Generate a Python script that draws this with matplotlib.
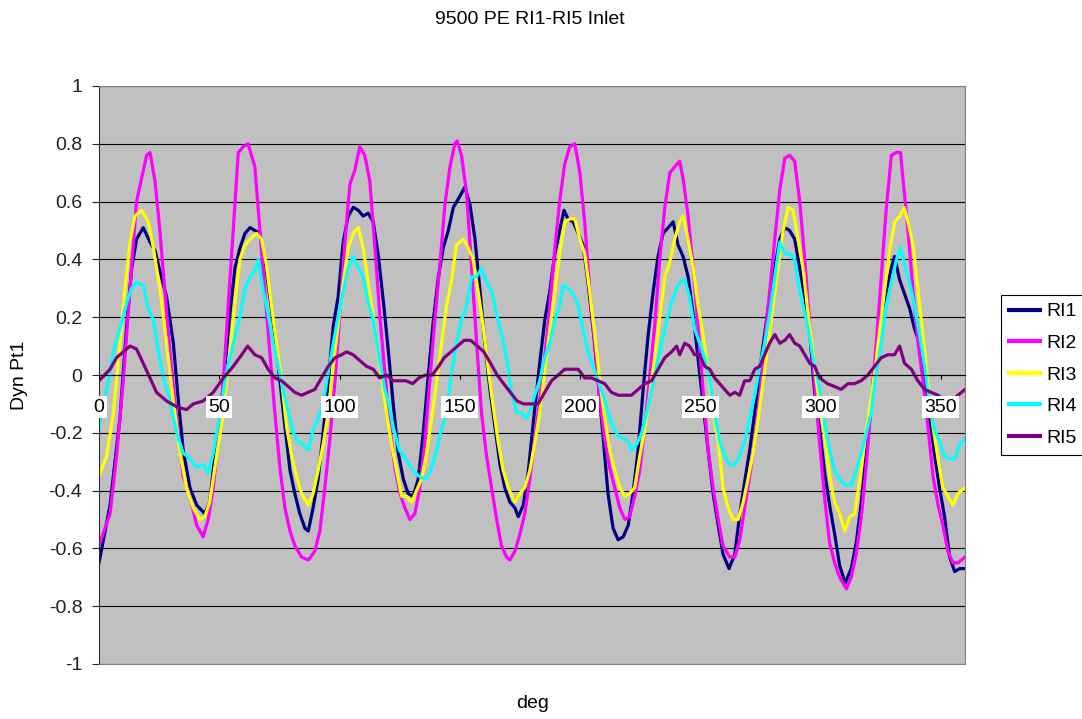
import numpy as np
import matplotlib
matplotlib.use("Agg")
from matplotlib import pyplot as plt

plt.rcParams['font.family'] = ['Liberation Sans', 'DejaVu Sans']

# ---- data (deg, Dyn Pt1) ----
ri1_deg = [0, 4.6, 8.7, 11.5, 13.6, 15.6, 18.4, 21.2, 23.3, 25.3, 28.1, 30.9, 33, 35, 37.8, 40.6, 44, 46, 48.2, 50.3,
           52.4, 54.4, 56.5, 58.6, 60.7, 62.8, 64.8, 66.9, 68.9, 71, 73.1, 75.2, 77.3, 79.4, 81.4, 83.5, 85.6, 87, 89,
           91.1, 93.2, 95.3, 97.4, 99.4, 101.5, 103.6, 105.7, 107.8, 109.8, 111.9, 114, 116, 118.4, 120.2, 122.3,
           124.4, 126.5, 128.5, 130.6, 132.7, 134.8, 136.9, 139, 141.1, 143.1, 145.2, 147.3, 150.1, 152.1, 154.2,
           156.3, 158.4, 160.4, 162.5, 164.6, 166.7, 168.7, 170.8, 172.9, 174.3, 176.4, 178.5, 181.1, 183.2, 185.3,
           187.4, 189.5, 191.5, 193.3, 195, 197.1, 199.2, 201.2, 203.3, 205.4, 207.5, 209.6, 211.6, 213.7, 215.8,
           217.9, 220, 222, 224.1, 226.2, 228.3, 230.4, 232.4, 234.5, 236.6, 238.7, 240.7, 242.8, 244.9, 247, 249,
           251.1, 253.2, 255.3, 257.4, 259.4, 261.9, 264.3, 266.4, 268.4, 270.5, 272.6, 274.7, 276.7, 278.8, 280.9,
           283, 285.1, 287.1, 289.2, 291.3, 293.4, 295.5, 297.5, 299.6, 301.7, 303.7, 305.8, 307.9, 310.2, 312.7,
           314.8, 316.9, 319, 321, 323.1, 325.2, 327.3, 329.4, 330.7, 332.8, 334.9, 337, 339, 341.1, 343.2, 345.3,
           347.4, 349.4, 351.5, 353.6, 355.7, 357.8, 360]
ri1 = [-0.65, -0.45, -0.15, 0.17, 0.37, 0.47, 0.51, 0.46, 0.43, 0.36, 0.27, 0.11, -0.09, -0.26, -0.39, -0.45, -0.48,
       -0.44, -0.28, -0.15, 0.03, 0.21, 0.37, 0.44, 0.49, 0.51, 0.50, 0.49, 0.40, 0.27, 0.14, -0.02, -0.18, -0.33,
       -0.41, -0.48, -0.53, -0.54, -0.46, -0.36, -0.20, -0.02, 0.17, 0.27, 0.46, 0.55, 0.58, 0.57, 0.55, 0.56, 0.53,
       0.42, 0.24, 0.09, -0.10, -0.27, -0.36, -0.41, -0.42, -0.36, -0.20, 0.00, 0.19, 0.34, 0.44, 0.50, 0.58, 0.62,
       0.65, 0.59, 0.47, 0.29, 0.11, -0.05, -0.18, -0.31, -0.39, -0.44, -0.46, -0.49, -0.45, -0.33, -0.12, 0.04,
       0.19, 0.29, 0.42, 0.50, 0.57, 0.54, 0.53, 0.49, 0.45, 0.32, 0.16, -0.02, -0.22, -0.41, -0.53, -0.57, -0.56,
       -0.52, -0.41, -0.26, -0.05, 0.14, 0.29, 0.41, 0.49, 0.51, 0.53, 0.45, 0.41, 0.34, 0.21, 0.06, -0.10, -0.26,
       -0.41, -0.52, -0.62, -0.67, -0.62, -0.48, -0.37, -0.26, -0.13, 0.02, 0.14, 0.27, 0.37, 0.47, 0.51, 0.50,
       0.47, 0.37, 0.27, 0.14, -0.06, -0.19, -0.34, -0.45, -0.55, -0.66, -0.72, -0.67, -0.58, -0.44, -0.27, -0.10,
       0.08, 0.21, 0.29, 0.37, 0.41, 0.33, 0.28, 0.23, 0.16, 0.11, -0.02, -0.15, -0.28, -0.39, -0.49, -0.63, -0.68,
       -0.67, -0.67]

ri2_deg = [0, 4.6, 7.3, 10.1, 12.9, 15.6, 17.7, 19.8, 21.2, 23.3, 25.3, 27.4, 29.5, 32.3, 35, 37.8, 40.6, 43.3, 45.4,
           47.5, 49.6, 51.7, 53.7, 55.8, 57.9, 60, 62, 64.8, 66.9, 68.9, 71, 73.1, 75.2, 77.3, 79.4, 81.4, 84.2, 87,
           89.7, 91.8, 93.9, 96, 98.1, 100.1, 102.2, 104.3, 106.4, 108.4, 110.5, 112.6, 114.7, 116.7, 118.8, 120.9,
           123, 125.1, 127.2, 129.2, 131.3, 133.4, 135.5, 137.5, 139.6, 141.7, 143.8, 145.9, 147.9, 148.9, 150.7,
           152.8, 154.9, 157, 159, 161.1, 163.2, 165.3, 167.3, 169.4, 170.8, 172.9, 175, 177, 179.1, 181.1, 183.2,
           185.3, 187.4, 189.5, 191.5, 193.6, 195.7, 197.8, 199.9, 201.9, 204, 206.1, 208.2, 210.2, 212.3, 214.4,
           216.5, 218.6, 220.6, 222.7, 224.8, 226.9, 228.9, 231, 233.1, 235.2, 237.3, 239.3, 241.4, 242.8, 244.9,
           247, 249, 251.1, 253.2, 255.3, 257.4, 259.4, 262.2, 264.3, 266.4, 268.4, 270.5, 272.6, 274.7, 276.7,
           278.8, 280.9, 283, 285.1, 287.1, 289.2, 291.3, 293.4, 295.5, 297.5, 299.6, 301.7, 303.7, 305.8, 307.9,
           310.7, 312.7, 314.8, 316.9, 319, 321, 323.1, 325.2, 327.3, 329.4, 331.4, 333.2, 334.2, 336.3, 338.4,
           340.5, 342.5, 344.6, 346.7, 348.8, 350.8, 352.9, 355, 357.1, 360]
ri2 = [-0.59, -0.48, -0.28, -0.02, 0.30, 0.60, 0.68, 0.76, 0.77, 0.67, 0.50, 0.29, 0.08, -0.15, -0.35, -0.42, -0.52,
       -0.56, -0.50, -0.39, -0.22, -0.02, 0.24, 0.50, 0.77, 0.79, 0.80, 0.72, 0.50, 0.29, 0.08, -0.13, -0.32, -0.46,
       -0.54, -0.59, -0.63, -0.64, -0.61, -0.54, -0.39, -0.22, -0.02, 0.21, 0.46, 0.66, 0.71, 0.79, 0.76, 0.67, 0.44,
       0.21, 0.01, -0.18, -0.32, -0.41, -0.46, -0.50, -0.48, -0.39, -0.23, -0.02, 0.19, 0.38, 0.59, 0.72, 0.80, 0.81,
       0.76, 0.63, 0.37, 0.11, -0.13, -0.28, -0.39, -0.50, -0.59, -0.63, -0.64, -0.61, -0.55, -0.48, -0.36, -0.22,
       -0.09, 0.06, 0.24, 0.44, 0.60, 0.73, 0.79, 0.80, 0.70, 0.53, 0.29, 0.11, -0.09, -0.22, -0.32, -0.39, -0.46,
       -0.50, -0.49, -0.42, -0.33, -0.18, -0.01, 0.17, 0.40, 0.58, 0.70, 0.72, 0.74, 0.68, 0.55, 0.37, 0.17, -0.05,
       -0.26, -0.39, -0.50, -0.59, -0.63, -0.63, -0.57, -0.46, -0.35, -0.22, -0.07, 0.11, 0.29, 0.47, 0.64, 0.75,
       0.76, 0.74, 0.60, 0.40, 0.17, -0.03, -0.24, -0.43, -0.58, -0.65, -0.70, -0.74, -0.70, -0.62, -0.49, -0.31,
       -0.10, 0.11, 0.34, 0.58, 0.76, 0.77, 0.77, 0.68, 0.50, 0.29, 0.11, -0.02, -0.18, -0.35, -0.45, -0.52, -0.61,
       -0.65, -0.65, -0.63]

ri3_deg = [0, 3.2, 6, 8.7, 10.8, 12.9, 14.9, 17.7, 20.5, 22.6, 25.3, 28.1, 30.9, 33.7, 36.4, 39.2, 41.9, 44, 46, 48.9,
           51.7, 54.4, 57, 58.6, 60.7, 62.8, 65.5, 67.6, 69.6, 71.7, 73.8, 75.9, 78, 80.1, 82.1, 84.2, 87, 89, 91.1,
           93.2, 95.3, 97.4, 99.4, 101.5, 103.6, 105.7, 107.8, 109.8, 111.9, 114, 116, 118.1, 119.5, 121.6, 123.7,
           125.8, 127.9, 130, 132, 134.1, 136.2, 138.3, 140.4, 142.4, 144.5, 146.6, 148.6, 151.4, 153.5, 155.5,
           157.6, 159.7, 161.8, 163.9, 165.9, 168, 170.1, 172.9, 175, 177, 179.1, 181.1, 183.2, 185.3, 187.4, 189.5,
           191.5, 193.6, 195.7, 197.8, 199.9, 201.9, 204, 206.1, 208.2, 210.2, 212.3, 214.4, 216.5, 218.6, 220.6,
           222.7, 224.8, 226.9, 228.9, 231, 233.1, 235.2, 237.3, 239.3, 241.4, 242.8, 244.9, 247, 249, 251.1, 253.2,
           255.3, 257.4, 259.4, 261.5, 263.6, 265.7, 267.8, 269.8, 271.9, 274, 276.1, 278.2, 280.2, 282.3, 284.4,
           286.5, 288.5, 290.6, 292.7, 294.8, 296.8, 298.2, 299.8, 301.7, 303.7, 305.8, 307.9, 310, 312.1, 314.2,
           316.3, 318.3, 320.4, 322.5, 324.6, 326.7, 328.8, 330.8, 332.9, 334.7, 336.3, 338.4, 340.5, 342.5, 344.6,
           346.7, 348.8, 350.8, 352.9, 355, 357.1, 360]
ri3 = [-0.35, -0.28, -0.13, 0.11, 0.30, 0.46, 0.55, 0.57, 0.53, 0.44, 0.30, 0.11, -0.09, -0.27, -0.39, -0.46, -0.50,
       -0.49, -0.44, -0.28, -0.13, 0.08, 0.29, 0.40, 0.45, 0.47, 0.49, 0.47, 0.38, 0.24, 0.11, -0.02, -0.18, -0.28,
       -0.35, -0.41, -0.45, -0.41, -0.33, -0.24, -0.13, 0.03, 0.17, 0.32, 0.44, 0.49, 0.51, 0.44, 0.32, 0.20, 0.08,
       -0.05, -0.13, -0.24, -0.33, -0.42, -0.42, -0.44, -0.40, -0.36, -0.27, -0.15, -0.02, 0.11, 0.24, 0.33, 0.45,
       0.47, 0.44, 0.40, 0.29, 0.17, 0.02, -0.11, -0.23, -0.33, -0.39, -0.44, -0.41, -0.39, -0.33, -0.24, -0.13,
       0.01, 0.16, 0.29, 0.42, 0.53, 0.54, 0.54, 0.47, 0.42, 0.29, 0.14, -0.02, -0.15, -0.26, -0.33, -0.39, -0.42,
       -0.41, -0.39, -0.28, -0.19, -0.07, 0.06, 0.20, 0.34, 0.39, 0.47, 0.53, 0.55, 0.47, 0.37, 0.24, 0.14, 0.01,
       -0.13, -0.23, -0.39, -0.46, -0.50, -0.50, -0.44, -0.36, -0.27, -0.15, -0.02, 0.11, 0.24, 0.37, 0.50, 0.58,
       0.57, 0.47, 0.37, 0.21, 0.08, -0.02, -0.12, -0.21, -0.35, -0.44, -0.48, -0.54, -0.49, -0.48, -0.36, -0.23,
       -0.11, 0.01, 0.16, 0.30, 0.44, 0.53, 0.55, 0.58, 0.53, 0.45, 0.29, 0.14, -0.03, -0.18, -0.29, -0.39, -0.42,
       -0.45, -0.41, -0.39]

ri4_deg = [0, 3.2, 6, 8.7, 11.5, 13.6, 15.6, 18.4, 20.5, 22.6, 24.7, 26.7, 29.5, 32.3, 35, 37.8, 40.6, 43.3, 45.4,
           47.5, 50.3, 53, 55.8, 58.6, 60.7, 62.8, 64.8, 66.2, 68.3, 70.3, 72.4, 74.5, 76.6, 78.7, 80.8, 82.8, 84.9,
           87, 89, 91.1, 93.2, 95.3, 97.4, 99.4, 101.5, 103.6, 105.7, 107.8, 109.8, 111.9, 114, 116.5, 118.8, 120.5,
           122.3, 124.9, 127.6, 130.4, 133, 135.8, 137.9, 140, 142, 144.5, 146.6, 148.6, 150.7, 152.8, 154.9, 157,
           159, 161.1, 163.2, 165.3, 167.3, 169.4, 171.5, 173.6, 175.6, 177.7, 179.8, 181.1, 183.2, 185.3, 187.4,
           189.5, 191.5, 192.9, 195, 197.1, 199.2, 201.2, 203.3, 205.4, 207.5, 209.6, 211.6, 213.7, 215.8, 217.9,
           220, 221.4, 223.5, 225.6, 227.7, 229.7, 231.8, 233.9, 236, 238, 240.1, 241.4, 243.5, 245.5, 247.6, 249.7,
           251.8, 253.9, 255.9, 258, 260.1, 262.2, 264.3, 266.3, 268.4, 270.5, 272.6, 274.7, 276.7, 278.8, 280.9,
           283, 285.1, 287.1, 289.2, 290.6, 292.7, 294.8, 296.8, 298.9, 300.5, 301.7, 303.7, 305.8, 307.9, 310,
           312.7, 314.8, 316.9, 319, 321, 323.1, 325.2, 327.3, 329.4, 331.5, 333.3, 334.9, 337, 339, 341.1, 343.2,
           345.3, 347.4, 349.4, 351.5, 353.6, 355.7, 357.8, 360]
ri4 = [-0.18, -0.05, 0.08, 0.16, 0.25, 0.30, 0.32, 0.31, 0.23, 0.19, 0.08, -0.01, -0.09, -0.20, -0.27, -0.29, -0.32,
       -0.31, -0.34, -0.27, -0.13, 0.01, 0.11, 0.20, 0.30, 0.34, 0.36, 0.40, 0.29, 0.21, 0.11, 0.03, -0.05, -0.13,
       -0.20, -0.23, -0.24, -0.26, -0.19, -0.15, -0.10, 0.01, 0.11, 0.20, 0.29, 0.37, 0.41, 0.37, 0.34, 0.25, 0.19,
       0.06, -0.05, -0.10, -0.18, -0.26, -0.29, -0.33, -0.35, -0.36, -0.33, -0.27, -0.20, -0.13, 0.01, 0.11, 0.19,
       0.24, 0.34, 0.34, 0.37, 0.32, 0.29, 0.21, 0.14, 0.06, -0.06, -0.13, -0.13, -0.15, -0.11, -0.07, -0.02, 0.06,
       0.11, 0.19, 0.24, 0.31, 0.30, 0.28, 0.24, 0.16, 0.08, 0.03, -0.02, -0.07, -0.13, -0.18, -0.21, -0.22, -0.23,
       -0.26, -0.24, -0.20, -0.13, -0.05, 0.03, 0.11, 0.19, 0.25, 0.30, 0.32, 0.33, 0.27, 0.16, 0.11, 0.06, -0.02,
       -0.13, -0.23, -0.28, -0.31, -0.31, -0.28, -0.23, -0.15, -0.07, 0.03, 0.11, 0.21, 0.34, 0.46, 0.42, 0.42,
       0.40, 0.32, 0.24, 0.16, 0.06, -0.02, -0.09, -0.17, -0.26, -0.33, -0.36, -0.38, -0.38, -0.33, -0.27, -0.20,
       -0.13, 0.01, 0.11, 0.24, 0.32, 0.40, 0.44, 0.38, 0.32, 0.24, 0.14, 0.03, -0.10, -0.19, -0.23, -0.28, -0.29,
       -0.29, -0.24, -0.22]

ri5_deg = [0, 4.6, 7.3, 10.1, 12.9, 15.6, 18.4, 21.2, 23.9, 28.1, 32.3, 36.4, 39.2, 43.3, 47.5, 51.7, 55.8, 59.3,
           61.8, 64.8, 67.6, 70.3, 73.1, 75.9, 78.7, 81.4, 84.2, 87, 89.7, 92.5, 95.3, 98.1, 100.8, 102.9, 105.7,
           108.4, 111.2, 114, 116.7, 119.5, 122.3, 124.9, 127.6, 130.4, 133, 135.8, 138.5, 141.2, 143.5, 146.3, 149,
           151.8, 154.5, 157.3, 160, 162.8, 165.5, 168.2, 171, 173.8, 176.5, 179.8, 182.5, 185.3, 188.1, 190.9,
           193.6, 196.4, 199.2, 201.9, 204.7, 207.5, 210.2, 213, 215.8, 218.6, 221.3, 224.1, 226.9, 229.7, 232.4,
           235.2, 238, 240.1, 241.4, 243.5, 245.5, 247.6, 249.7, 251.8, 253.9, 255.9, 258, 260.1, 262.2, 264.3,
           266.3, 268.4, 270.5, 272.6, 274.7, 276.7, 278.8, 280.9, 283, 285.1, 287.1, 289.2, 291.3, 293.4, 295.5,
           297.5, 299.6, 302.8, 305.8, 308.5, 311.3, 314, 316.8, 319.6, 322.4, 325.2, 327.9, 330.7, 332.8, 334.9,
           337.7, 340.4, 343.2, 345.9, 348.8, 351.5, 354.3, 357.1, 360]
ri5 = [-0.02, 0.02, 0.06, 0.08, 0.10, 0.09, 0.04, -0.01, -0.06, -0.09, -0.11, -0.12, -0.10, -0.09, -0.06, -0.01,
       0.03, 0.07, 0.10, 0.07, 0.06, 0.02, -0.01, -0.02, -0.04, -0.06, -0.07, -0.06, -0.05, -0.01, 0.03, 0.06, 0.07,
       0.08, 0.07, 0.05, 0.03, 0.02, -0.01, 0.00, -0.02, -0.02, -0.02, -0.03, -0.01, 0.00, 0.00, 0.03, 0.06, 0.08,
       0.10, 0.12, 0.12, 0.10, 0.08, 0.04, 0.00, -0.03, -0.06, -0.09, -0.10, -0.10, -0.10, -0.06, -0.02, 0.00, 0.02,
       0.02, 0.02, -0.01, -0.01, -0.02, -0.03, -0.06, -0.07, -0.07, -0.07, -0.05, -0.03, -0.02, 0.02, 0.06, 0.08,
       0.10, 0.07, 0.11, 0.10, 0.07, 0.07, 0.03, 0.02, -0.01, -0.03, -0.05, -0.07, -0.06, -0.07, -0.02, -0.02, 0.02,
       0.03, 0.07, 0.11, 0.14, 0.11, 0.12, 0.14, 0.11, 0.10, 0.07, 0.04, 0.03, -0.01, -0.03, -0.04, -0.05, -0.03,
       -0.03, -0.02, 0.00, 0.03, 0.06, 0.07, 0.07, 0.10, 0.04, 0.02, -0.02, -0.05, -0.06, -0.07, -0.09, -0.09,
       -0.07, -0.05]

series = [("RI1", ri1_deg, ri1, "#000080"),
          ("RI2", ri2_deg, ri2, "#FF00FF"),
          ("RI3", ri3_deg, ri3, "#FFFF00"),
          ("RI4", ri4_deg, ri4, "#00FFFF"),
          ("RI5", ri5_deg, ri5, "#800080")]
deg_ticks = [0, 50, 100, 150, 200, 250, 300, 350]

W, H = 1082, 719
fig = plt.figure(figsize=(W / 100, H / 100), dpi=100)
ax = fig.add_axes([99 / W, 1 - 664 / H, (965 - 99) / W, (664 - 86) / H])
ax.set_facecolor("#C0C0C0")

for name, xs, ys, col in series:
    ax.plot(xs, ys, color=col, lw=2.3, label=name, solid_joinstyle="round")

ax.set_xlim(0, 360)
ax.set_ylim(-1, 1)

yt = np.round(np.arange(-1, 1.01, 0.2), 1)
ax.set_yticks(yt)
ax.set_yticklabels([("%g" % v) if v != 0 else "0" for v in yt])
ax.tick_params(axis="y", direction="out", length=5, width=0.8, pad=7, labelsize=14, colors="#202020")
ax.yaxis.grid(True, color="black", lw=0.8)
ax.set_axisbelow(True)
ax.tick_params(axis="x", bottom=False, labelbottom=False)
for s in ["top", "right", "bottom"]:
    ax.spines[s].set_color("#808080")
ax.spines["left"].set_color("#303030")

# category axis sits on y = 0, labels underneath in white boxes
sec = ax.secondary_xaxis(0.5)
sec.set_zorder(5)
sec.xaxis.set_ticks_position("bottom")
sec.set_xticks(deg_ticks)
sec.set_xticklabels([str(t) for t in deg_ticks])
sec.tick_params(axis="x", which="both", direction="out", length=3, width=0.8, pad=14, labelsize=14,
                top=False, labeltop=False, bottom=True, labelbottom=True)
sec.spines["bottom"].set_color("black")
sec.spines["bottom"].set_linewidth(0.8)

fig.text(530 / W, 1 - 20 / H, "9500 PE RI1-RI5 Inlet", ha="center", va="center", fontsize=14)
fig.text(533 / W, 1 - 703 / H, "deg", ha="center", va="center", fontsize=14)
fig.text(20 / W, 1 - 375 / H, "Dyn Pt1", ha="center", va="center", rotation=90, fontsize=14)

leg = fig.legend(loc="upper left", bbox_to_anchor=(1001 / W, 1 - 295 / H), fontsize=14,
                 frameon=True, fancybox=False, framealpha=1, edgecolor="black",
                 handlelength=1.6, handletextpad=0.35, labelspacing=0.72, borderpad=0.4,
                 borderaxespad=0)
leg.get_frame().set_linewidth(0.8)
for h in leg.get_lines():
    h.set_linewidth(3)

fig.canvas.draw()
for tk in sec.xaxis.get_major_ticks():
    tk.label1.set_bbox(dict(facecolor="white", edgecolor="none", pad=1.5))

fig.savefig("out.png", dpi=100)
